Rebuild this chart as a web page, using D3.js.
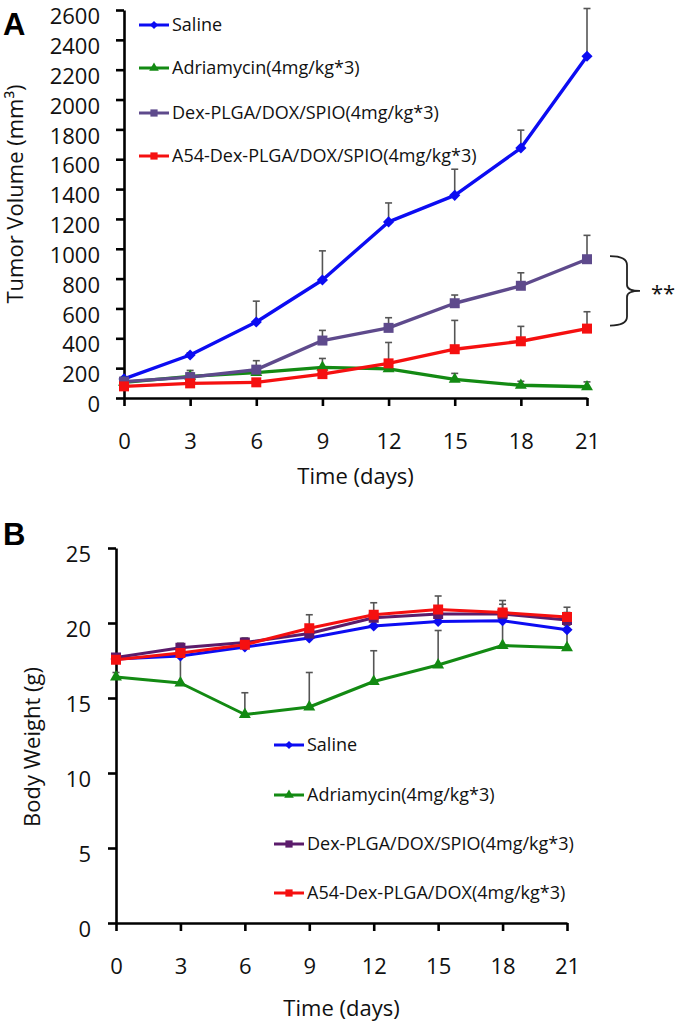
<!DOCTYPE html>
<html><head><meta charset="utf-8">
<script src="https://cdn.jsdelivr.net/npm/d3@7"></script>
<style>
body{margin:0;background:#fff}
svg{display:block;font-family:'Open Sans',sans-serif}
</style>
</head><body>
<svg id="chart" width="675" height="1024"></svg>
<script>
// ---------- data ----------
const days = [0, 3, 6, 9, 12, 15, 18, 21];
const dayTicks = [0, 3, 6, 9, 12, 15, 18, 21];
const volumeTicks = [0, 200, 400, 600, 800, 1000, 1200, 1400, 1600, 1800, 2000, 2200, 2400, 2600];
const weightTicks = [0, 5, 10, 15, 20, 25];

const namesA = ["Saline", "Adriamycin(4mg/kg*3)", "Dex-PLGA/DOX/SPIO(4mg/kg*3)", "A54-Dex-PLGA/DOX/SPIO(4mg/kg*3)"];
const namesB = ["Saline", "Adriamycin(4mg/kg*3)", "Dex-PLGA/DOX/SPIO(4mg/kg*3)", "A54-Dex-PLGA/DOX(4mg/kg*3)"];

// Panel A: tumor volume (mm3), mean and upper error
const salineVol = [128, 288, 509, 791, 1180, 1358, 1675, 2290];
const salineVolErr = [10, 15, 140, 195, 127, 175, 120, 320];
const adriaVol = [105, 145, 170, 205, 195, 125, 85, 75];
const adriaVolErr = [10, 40, 30, 60, 30, 40, 27, 33];
const dexVol = [110, 140, 190, 385, 470, 635, 752, 930];
const dexVolErr = [10, 30, 60, 68, 68, 55, 87, 160];
const a54Vol = [78, 98, 105, 160, 232, 327, 380, 465];
const a54VolErr = [8, 10, 10, 30, 140, 193, 100, 113];

// Panel B: body weight (g), mean and upper error
const salineWt = [17.6, 17.8, 18.4, 19.0, 19.8, 20.1, 20.15, 19.55];
const salineWtErr = [0.2, 0.2, 0.2, 0.3, 0.3, 0.3, 0.3, 0.3];
const adriaWt = [16.4, 16.0, 13.9, 14.4, 16.1, 17.2, 18.5, 18.35];
const adriaWtErr = [0.3, 1.9, 1.45, 2.3, 2.05, 2.3, 1.6, 1.2];
const dexWt = [17.7, 18.35, 18.7, 19.3, 20.35, 20.6, 20.6, 20.2];
const dexWtErr = [0.2, 0.3, 0.3, 0.4, 0.4, 0.5, 0.65, 0.5];
const a54Wt = [17.55, 18.0, 18.55, 19.65, 20.55, 20.9, 20.7, 20.4];
const a54WtErr = [0.2, 0.3, 0.3, 0.9, 0.8, 0.9, 0.8, 0.65];

// ---------- styles ----------
const colorsA = ["#0c0cf2", "#138a13", "#5e4a8c", "#f51010"];
const colorsB = ["#0c0cf2", "#138a13", "#5b1b6b", "#f51010"];
const shapes = ["diamond", "triangle", "square", "square"];

const svg = d3.select("#chart");

function symbolPath(shape, big) {
  if (shape === "diamond") return d3.symbol(d3.symbolSquare, big ? 62 : 34)();
  if (shape === "triangle") return d3.symbol(d3.symbolTriangle, big ? 62 : 40)();
  return d3.symbol(d3.symbolSquare, big ? 100 : 52)();
}

function drawPanel(cfg) {
  const g = svg.append("g");
  const x = d3.scaleLinear().domain([0, 21]).range(cfg.xRange);
  const y = d3.scaleLinear().domain(cfg.yDomain).range(cfg.yRange);

  const ax = g.append("g").attr("transform", `translate(0,${cfg.yRange[0]})`)
    .call(d3.axisBottom(x).tickValues(dayTicks).tickFormat(d3.format("d")).tickSize(8).tickSizeOuter(0).tickPadding(cfg.xPad));
  const ay = g.append("g").attr("transform", `translate(${cfg.xRange[0]},0)`)
    .call(d3.axisLeft(y).tickValues(cfg.yTicks).tickFormat(d3.format("d")).tickSize(8).tickSizeOuter(0).tickPadding(cfg.yPad));
  [ax, ay].forEach(a => {
    a.selectAll("path.domain").attr("stroke", "#000").attr("stroke-width", 2.6);
    a.selectAll(".tick line").attr("stroke", "#000").attr("stroke-width", 2.6);
    a.selectAll(".tick text").attr("fill", "#111").style("font-size", "22px").style("font-family", "'Open Sans',sans-serif");
  });
  ay.selectAll(".tick text").attr("dy", "0.62em");

  cfg.series.forEach((s, i) => {
    const eg = g.append("g");
    days.forEach((d, j) => {
      const x0 = x(d), y0 = y(s.v[j]), y1 = y(s.v[j] + s.e[j]);
      eg.append("line").attr("x1", x0).attr("x2", x0).attr("y1", y0).attr("y2", y1)
        .attr("stroke", "#555").attr("stroke-width", 1.6);
      eg.append("line").attr("x1", x0 - 3.5).attr("x2", x0 + 3.5).attr("y1", y1).attr("y2", y1)
        .attr("stroke", "#555").attr("stroke-width", 1.6);
    });
  });

  const line = d3.line().x((d, j) => x(days[j])).y(d => y(d));
  cfg.series.forEach((s, i) => {
    g.append("path").datum(s.v).attr("d", line).attr("fill", "none")
      .attr("stroke", cfg.colors[i]).attr("stroke-width", cfg.lw).attr("stroke-linejoin", "round");
    g.selectAll(null).data(s.v).enter().append("path")
      .attr("d", symbolPath(shapes[i], true))
      .attr("transform", (d, j) => `translate(${x(days[j])},${y(d)})` + (shapes[i] === "diamond" ? " rotate(45)" : ""))
      .attr("fill", cfg.colors[i]);
  });

  const lg = g.append("g");
  cfg.names.forEach((n, i) => {
    const yy = cfg.legY[i];
    lg.append("line").attr("x1", cfg.legX).attr("x2", cfg.legX + 30).attr("y1", yy).attr("y2", yy)
      .attr("stroke", cfg.colors[i]).attr("stroke-width", 3);
    lg.append("path").attr("d", symbolPath(shapes[i], false))
      .attr("transform", `translate(${cfg.legX + 15},${yy})` + (shapes[i] === "diamond" ? " rotate(45)" : ""))
      .attr("fill", cfg.colors[i]);
    lg.append("text").attr("x", cfg.legX + 33).attr("y", yy).attr("dy", "0.35em")
      .style("font-size", "18px").attr("fill", "#111").text(n);
  });

  g.append("text").attr("x", (cfg.xRange[0] + cfg.xRange[1]) / 2).attr("y", cfg.xTitleY).attr("dy", "0.35em")
    .attr("text-anchor", "middle").style("font-size", "22px").attr("fill", "#111").text("Time (days)");
  g.append("text").attr("transform", `translate(${cfg.yTitleX},${cfg.yTitleY}) rotate(-90)`)
    .attr("text-anchor", "middle").style("font-size", "22px").attr("fill", "#111").text(cfg.yTitle);

  g.append("text").attr("x", 3).attr("y", cfg.letterY).style("font-family", "'Liberation Sans',Arial,sans-serif")
    .style("font-weight", "bold").style("font-size", "31px").attr("fill", "#000").text(cfg.letter);

  return { x, y, g };
}

const panelA = drawPanel({
  xRange: [124, 587], yDomain: [0, 2600], yRange: [398, 10], yTicks: volumeTicks,
  xPad: 27, yPad: 16, lw: 3.4, colors: colorsA, names: namesA,
  series: [
    { v: salineVol, e: salineVolErr },
    { v: adriaVol, e: adriaVolErr },
    { v: dexVol, e: dexVolErr },
    { v: a54Vol, e: a54VolErr }
  ],
  legX: 139, legY: [25, 68, 113, 156],
  xTitleY: 476, yTitleX: 23, yTitleY: 194, yTitle: "Tumor Volume (mm³)",
  letter: "A", letterY: 35
});

const panelB = drawPanel({
  xRange: [116, 567], yDomain: [0, 25], yRange: [923, 548], yTicks: weightTicks,
  xPad: 27, yPad: 17, lw: 3, colors: colorsB, names: namesB,
  series: [
    { v: salineWt, e: salineWtErr },
    { v: adriaWt, e: adriaWtErr },
    { v: dexWt, e: dexWtErr },
    { v: a54Wt, e: a54WtErr }
  ],
  legX: 274, legY: [745, 795, 844, 893],
  xTitleY: 1008, yTitleX: 40, yTitleY: 747, yTitle: "Body Weight (g)",
  letter: "B", letterY: 545
});

// significance brace between the last Dex and A54 points (panel A)
const braceTop = panelA.y(dexVol[7]) - 3, braceBot = panelA.y(a54Vol[7]) - 3, braceMid = (braceTop + braceBot) / 2;
const bx0 = 610, bx1 = 627, tipX = 640;
const bp = d3.path();
bp.moveTo(bx0, braceTop);
bp.quadraticCurveTo(bx1, braceTop, bx1, braceTop + 9);
bp.lineTo(bx1, braceMid - 6);
bp.quadraticCurveTo(bx1, braceMid, tipX, braceMid);
bp.quadraticCurveTo(bx1, braceMid, bx1, braceMid + 6);
bp.lineTo(bx1, braceBot - 9);
bp.quadraticCurveTo(bx1, braceBot, bx0, braceBot);
panelA.g.append("path").attr("d", bp.toString()).attr("fill", "none").attr("stroke", "#222").attr("stroke-width", 1.8);
panelA.g.append("text").attr("x", 651).attr("y", braceMid + 10).style("font-size", "22px").attr("fill", "#111").text("**");
</script>
</body></html>
